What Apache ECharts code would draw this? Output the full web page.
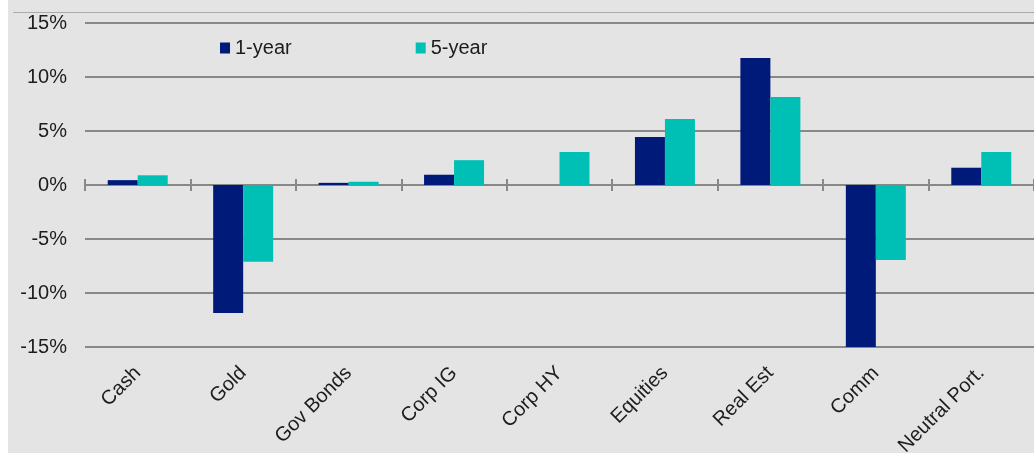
<!DOCTYPE html>
<html>
<head>
<meta charset="utf-8">
<script src="https://cdn.jsdelivr.net/npm/echarts@6/dist/echarts.min.js"></script>
<style>
  html, body { margin: 0; padding: 0; background: #ffffff; }
  #chart { width: 1034px; height: 453px; }
</style>
</head>
<body>
<div id="chart"></div>
<script>
const categories = ['Cash', 'Gold', 'Gov Bonds', 'Corp IG', 'Corp HY', 'Equities', 'Real Est', 'Comm', 'Neutral Port.'];
const oneYear = [0.45, -11.85, 0.2, 0.95, 0, 4.45, 11.75, -15, 1.6];
const fiveYear = [0.9, -7.1, 0.3, 2.3, 3.05, 6.1, 8.15, -6.95, 3.05];
const yTicks = { min: -15, max: 15, interval: 5 };

const FONT = 'Liberation Sans, Arial, sans-serif';
const TXT = '#1c1c1c';
const GRID = { left: 85, right: 0, top: 23, bottom: 106, containLabel: false, outerBoundsMode: 'none' };
const chart = echarts.init(document.getElementById('chart'), null, { renderer: 'canvas' });
chart.setOption({
  animation: false,
  backgroundColor: '#e4e4e4',
  textStyle: { fontFamily: FONT },
  graphic: [
    { type: 'rect', left: 0, top: 0, shape: { width: 8, height: 453 }, style: { fill: '#ffffff' }, z: 100 },
    { type: 'line', shape: { x1: 13, y1: 12.5, x2: 1034, y2: 12.5 }, style: { stroke: '#ababab', lineWidth: 1 } }
  ],
  legend: {
    left: 215, top: 33,
    icon: 'rect', itemWidth: 10, itemHeight: 11, itemGap: 124,
    textStyle: { fontSize: 20, color: TXT, fontFamily: FONT, padding: [0, 0, 0, 0] },
    data: ['1-year', '5-year']
  },
  grid: [Object.assign({}, GRID), Object.assign({}, GRID)],
  xAxis: [
    {
      type: 'category', data: categories, position: 'bottom', gridIndex: 0,
      axisLine: { onZero: true, lineStyle: { color: '#888888', width: 2 } },
      axisTick: { show: true, length: 6, inside: false, lineStyle: { color: '#888888', width: 2 } },
      axisLabel: { show: false }, splitLine: { show: false }
    },
    {
      type: 'category', data: categories, position: 'bottom', gridIndex: 0,
      axisLine: { show: false, onZero: false },
      axisTick: { show: false },
      axisLabel: { show: true, interval: 0, rotate: 45, margin: 23, fontSize: 20, color: TXT, fontFamily: FONT },
      splitLine: { show: false }
    },
    {
      type: 'category', data: categories, position: 'bottom', gridIndex: 1,
      axisLine: { show: true, onZero: true, lineStyle: { color: '#888888', width: 2 } },
      axisTick: { show: true, length: 6, inside: true, lineStyle: { color: '#888888', width: 2 } },
      axisLabel: { show: false }, splitLine: { show: false }
    }
  ],
  yAxis: [
    {
      type: 'value', min: yTicks.min, max: yTicks.max, interval: yTicks.interval, gridIndex: 0,
      axisLine: { show: false }, axisTick: { show: false },
      axisLabel: { formatter: '{value}%', fontSize: 20, color: TXT, margin: 18, fontFamily: FONT },
      splitLine: { show: true, lineStyle: { color: '#888888', width: 2 } }
    },
    {
      type: 'value', min: yTicks.min, max: yTicks.max, interval: yTicks.interval, gridIndex: 1,
      axisLine: { show: false }, axisTick: { show: false }, axisLabel: { show: false },
      splitLine: { show: false }
    }
  ],
  series: [
    { name: '1-year', type: 'bar', data: oneYear, barWidth: 30, barGap: '0%', itemStyle: { color: '#001a7a' }, xAxisIndex: 0, yAxisIndex: 0 },
    { name: '5-year', type: 'bar', data: fiveYear, barWidth: 30, barGap: '0%', itemStyle: { color: '#00c0b5' }, xAxisIndex: 0, yAxisIndex: 0 }
  ]
});
</script>
</body>
</html>
